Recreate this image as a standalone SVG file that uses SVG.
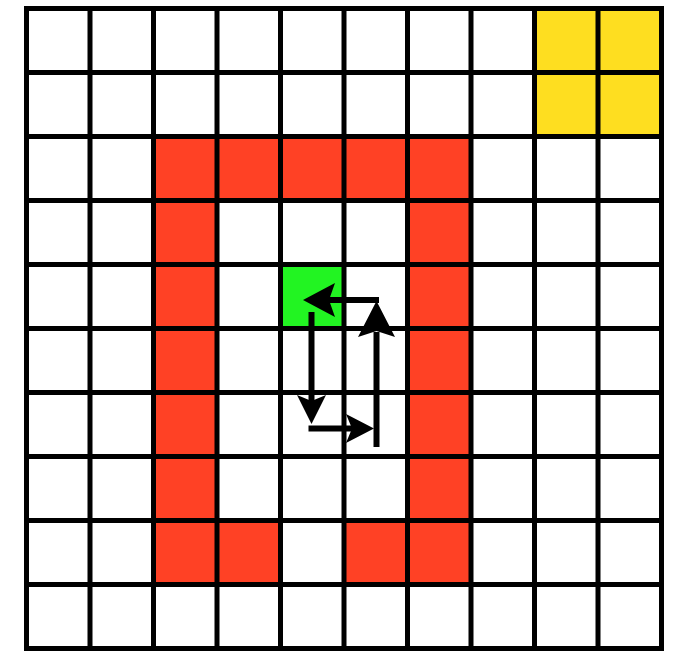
<svg xmlns="http://www.w3.org/2000/svg" width="673" height="651" viewBox="0 0 673 651">
<style>
.red{fill:#FF4125}
.yellow{fill:#FEDE20}
.green{fill:#22F422}
.grid line{stroke:#000;stroke-width:5}
.conn line{stroke:#000;stroke-width:6;stroke-linecap:butt}
.conn polygon{fill:#000}
</style>
<rect width="673" height="651" fill="#fff"/>
<g id="cells">
<g id="yellow-block">
<rect class="yellow" x="534.5" y="8.5" width="127" height="128"/>
</g>
<g id="wall">
<rect class="red" x="153.5" y="136.5" width="317.5" height="64"/>
<rect class="red" x="153.5" y="136.5" width="63.5" height="448"/>
<rect class="red" x="407.5" y="136.5" width="63.5" height="448"/>
<rect class="red" x="153.5" y="520.5" width="127" height="64"/>
<rect class="red" x="344" y="520.5" width="127" height="64"/>
</g>
<g id="green-cell">
<rect class="green" x="280.5" y="264.5" width="63.5" height="64"/>
</g>
</g>
<g class="grid" id="grid">
<line x1="26.5" y1="6" x2="26.5" y2="651"/>
<line x1="90" y1="6" x2="90" y2="651"/>
<line x1="153.5" y1="6" x2="153.5" y2="651"/>
<line x1="217" y1="6" x2="217" y2="651"/>
<line x1="280.5" y1="6" x2="280.5" y2="651"/>
<line x1="344" y1="6" x2="344" y2="651"/>
<line x1="407.5" y1="6" x2="407.5" y2="651"/>
<line x1="471" y1="6" x2="471" y2="651"/>
<line x1="534.5" y1="6" x2="534.5" y2="651"/>
<line x1="598" y1="6" x2="598" y2="651"/>
<line x1="661.5" y1="6" x2="661.5" y2="651"/>
<line x1="24" y1="8.5" x2="664" y2="8.5"/>
<line x1="24" y1="72.5" x2="664" y2="72.5"/>
<line x1="24" y1="136.5" x2="664" y2="136.5"/>
<line x1="24" y1="200.5" x2="664" y2="200.5"/>
<line x1="24" y1="264.5" x2="664" y2="264.5"/>
<line x1="24" y1="328.5" x2="664" y2="328.5"/>
<line x1="24" y1="392.5" x2="664" y2="392.5"/>
<line x1="24" y1="456.5" x2="664" y2="456.5"/>
<line x1="24" y1="520.5" x2="664" y2="520.5"/>
<line x1="24" y1="584.5" x2="664" y2="584.5"/>
<line x1="24" y1="648.5" x2="664" y2="648.5"/>
</g>
<g class="conn" id="connectors">
<line x1="379" y1="300" x2="329" y2="300"/>
<polygon points="303,300 335,283 329,300 335,317"/>
<line x1="376.5" y1="447" x2="376.5" y2="332"/>
<polygon points="376.5,301 395,337 376.5,331 358,337"/>
<line x1="311.5" y1="312" x2="311.5" y2="402"/>
<polygon points="311.5,424 297,395 311.5,401 326,395"/>
<line x1="308.5" y1="428.5" x2="353" y2="428.5"/>
<polygon points="374,428.5 346,414 352,428.5 346,443"/>
</g>
</svg>
